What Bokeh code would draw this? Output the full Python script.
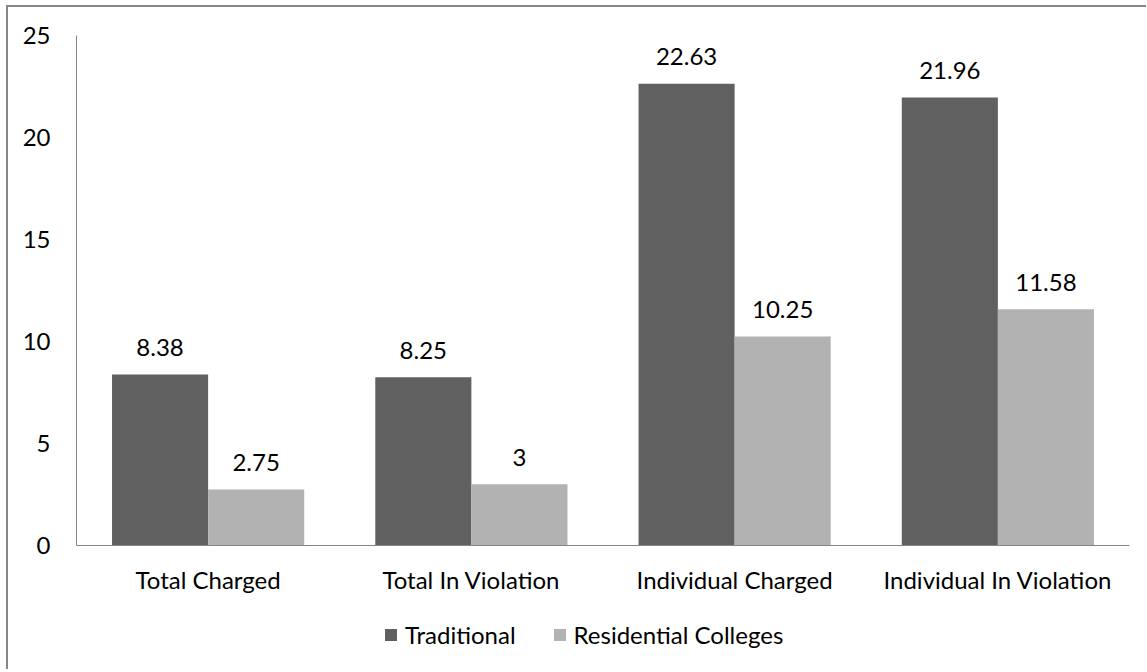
from bokeh.plotting import figure
from bokeh.layouts import column
from bokeh.models import ColumnDataSource, FactorRange, Legend, LegendItem, LabelSet, Range1d
from bokeh.core.properties import value
from bokeh.transform import dodge
from bokeh.embed import file_html
from bokeh.resources import INLINE

categories = ["Total Charged", "Total In Violation", "Individual Charged", "Individual In Violation"]
traditional = [8.38, 8.25, 22.63, 21.96]
residential = [2.75, 3, 10.25, 11.58]
trad_labels = ["8.38", "8.25", "22.63", "21.96"]
res_labels = ["2.75", "3", "10.25", "11.58"]
series_names = ["Traditional", "Residential Colleges"]
y_ticks = [0, 5, 10, 15, 20, 25]

FONT = "Lato"
DARK = "#606060"
LIGHT = "#b2b2b2"
AXIS = "#868686"

src = ColumnDataSource(dict(cat=categories, trad=traditional, res=residential,
                            tl=trad_labels, rl=res_labels))

p = figure(x_range=FactorRange(factors=categories), y_range=Range1d(0, 25),
           width=1138, height=600, output_backend="svg", toolbar_location=None,
           min_border_left=68, min_border_right=17, min_border_top=28, min_border_bottom=62)

bw = 0.365
p.vbar(x=dodge("cat", -bw / 2, range=p.x_range), top="trad", width=bw, source=src,
       fill_color=DARK, line_color=None)
p.vbar(x=dodge("cat", bw / 2, range=p.x_range), top="res", width=bw, source=src,
       fill_color=LIGHT, line_color=None)

for col, lab, off in (("trad", "tl", -bw / 2), ("res", "rl", bw / 2)):
    ls = LabelSet(x=dodge("cat", off, range=p.x_range), y=col, text=lab, source=src,
                  text_align="center", text_baseline="middle", y_offset=27,
                  text_font=value(FONT), text_font_size="24px", text_color="#000000")
    p.add_layout(ls)

p.outline_line_color = None
p.xgrid.grid_line_color = None
p.ygrid.grid_line_color = None

p.yaxis.ticker = y_ticks
p.yaxis.axis_line_color = AXIS
p.yaxis.major_tick_line_color = None
p.yaxis.minor_tick_line_color = None
p.yaxis.major_tick_out = 0
p.yaxis.major_tick_in = 0
p.yaxis.minor_tick_out = 0
p.yaxis.major_label_standoff = 26
p.yaxis.major_label_text_font = FONT
p.yaxis.major_label_text_font_size = "24px"
p.yaxis.major_label_text_color = "#000000"

p.xaxis.axis_line_color = AXIS
p.xaxis.major_tick_line_color = None
p.xaxis.major_tick_out = 0
p.xaxis.major_tick_in = 0
p.xaxis.major_label_standoff = 19
p.xaxis.major_label_text_font = FONT
p.xaxis.major_label_text_font_size = "24px"
p.xaxis.major_label_text_color = "#000000"

# legend strip
lg = figure(x_range=Range1d(0, 1), y_range=Range1d(0, 1), width=1138, height=62,
            output_backend="svg", toolbar_location=None,
            x_axis_location=None, y_axis_location=None,
            min_border_left=68, min_border_right=17, min_border_top=0, min_border_bottom=0)
lg.xgrid.grid_line_color = None
lg.ygrid.grid_line_color = None
lg.outline_line_color = None
lg.border_fill_color = "white"
g1 = lg.vbar(x=[0.5], top=[0], bottom=[0], width=0.0, fill_color=DARK, line_color=None)
g2 = lg.vbar(x=[0.5], top=[0], bottom=[0], width=0.0, fill_color=LIGHT, line_color=None)
legend = Legend(items=[LegendItem(label=series_names[0], renderers=[g1]),
                       LegendItem(label=series_names[1], renderers=[g2])],
                orientation="horizontal", location=(307, 20),
                glyph_width=15, glyph_height=15, label_standoff=7, spacing=36,
                label_text_font=FONT, label_text_font_size="24px",
                label_text_color="#000000", border_line_color=None,
                background_fill_alpha=0, margin=0, padding=0)
lg.add_layout(legend, "center")

layout = column(p, lg, spacing=0, margin=(5, 0, 0, 6),
                styles={"border-left": "2px solid #878787", "border-top": "2px solid #878787"})

open("out.html", "w").write(file_html(layout, INLINE))
